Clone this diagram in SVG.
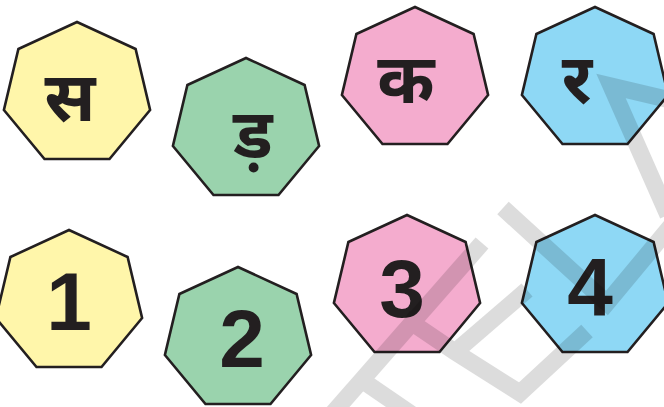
<svg xmlns="http://www.w3.org/2000/svg" xmlns:xlink="http://www.w3.org/1999/xlink" width="664" height="407" viewBox="0 0 664 407">
<style>
.hp{stroke:#231f20;stroke-width:2.6;stroke-linejoin:miter}
.y{fill:#fff6aa}.g{fill:#9ad3ad}.p{fill:#f4acce}.b{fill:#8ed8f5}
.dv{font-family:"Noto Sans Devanagari","Lohit Devanagari","Noto Sans","DejaVu Sans",sans-serif;font-weight:bold;font-size:69px;fill:#231f20;text-anchor:middle}
.num{font-family:"Liberation Sans",Arial,sans-serif;font-weight:bold;font-size:82px;fill:#231f20;text-anchor:middle}
.wm{fill:none;stroke:#000;stroke-width:17;stroke-linecap:butt;stroke-linejoin:miter}
</style>
<defs>
<polygon id="hept" points="0,-72 58.6,-45 73.1,16 32.5,65 -32.5,65 -73.1,16 -58.6,-45"/>
</defs>
<rect width="664" height="407" fill="#fff"/>
<g id="node-sa"><use xlink:href="#hept" href="#hept" x="77" y="94" class="hp y"/><text class="dv" x="70" y="121">स</text></g>
<g id="node-da"><use xlink:href="#hept" href="#hept" x="246" y="130" class="hp g"/><text class="dv" x="253" y="158">ड़</text></g>
<g id="node-ka"><use xlink:href="#hept" href="#hept" x="415" y="79" class="hp p"/><text class="dv" x="406" y="103">क</text></g>
<g id="node-ra"><use xlink:href="#hept" href="#hept" x="595" y="79" class="hp b"/><text class="dv" x="577" y="103">र</text></g>
<g id="node-1"><use xlink:href="#hept" href="#hept" x="69" y="302" class="hp y"/><text class="num" x="69" y="330">1</text></g>
<g id="node-2"><use xlink:href="#hept" href="#hept" x="238" y="339" class="hp g"/><text class="num" x="242" y="367">2</text></g>
<g id="node-3"><use xlink:href="#hept" href="#hept" x="407" y="287" class="hp p"/><text class="num" x="402" y="317">3</text></g>
<g id="node-4"><use xlink:href="#hept" href="#hept" x="595" y="287" class="hp b"/><text class="num" x="590" y="315">4</text></g>
<g id="watermark" opacity="0.135">
<path class="wm" d="M670,100 L611,86 L668,215"/>
<path class="wm" d="M503,208 L607,303 L680,215"/>
<path class="wm" d="M482,243 L318,430"/>
<path class="wm" d="M405,318 L455,352 L520,393 L587,331"/>
<path class="wm" d="M527,290 L455,352"/>
<path class="wm" d="M366,383 L420,420"/>
</g>
</svg>
